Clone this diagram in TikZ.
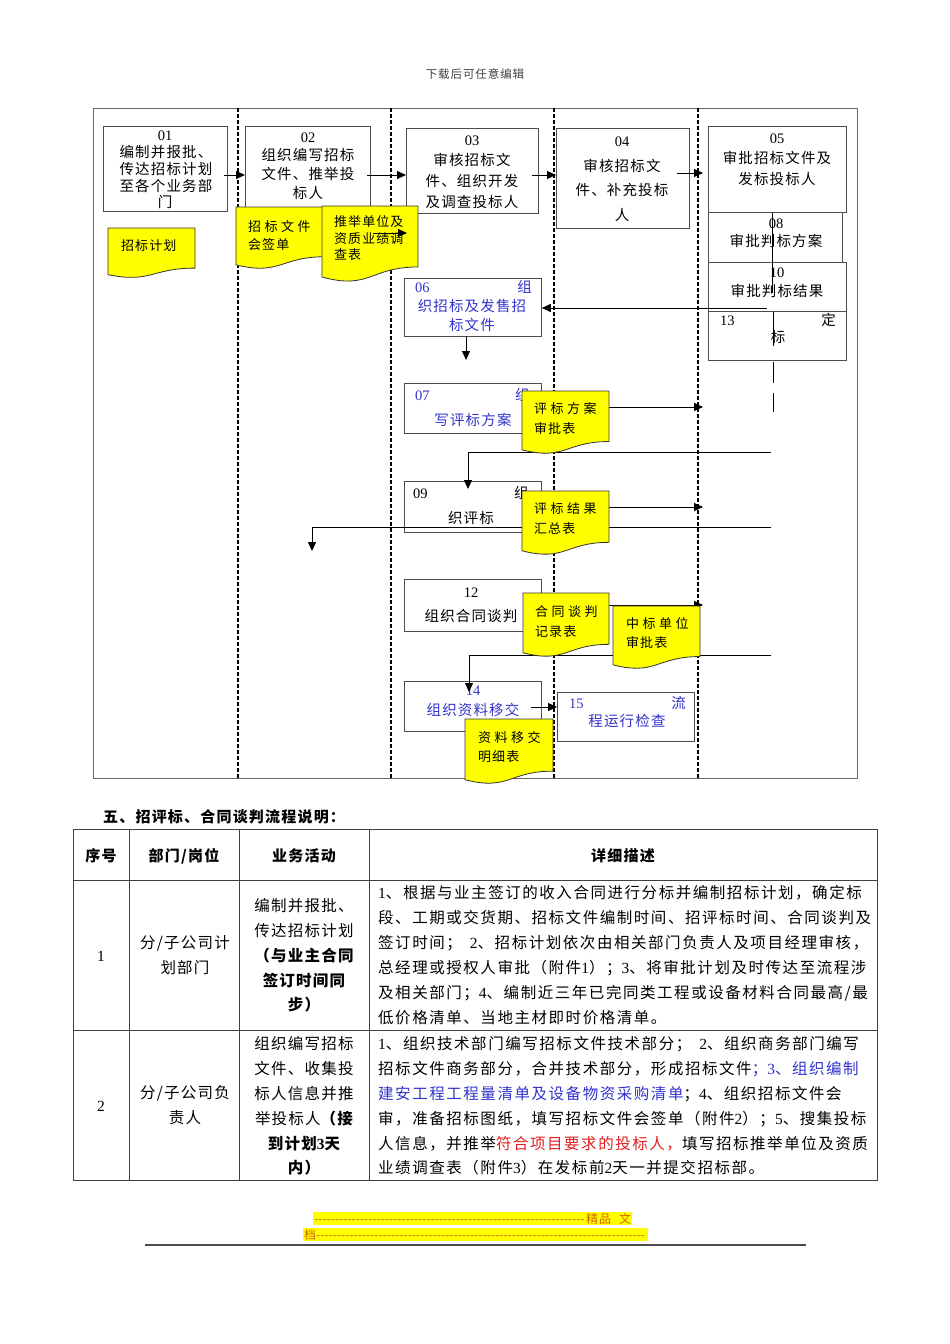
\documentclass[tikz,border=0pt]{standalone}
\usepackage{fontspec}
\setmainfont{Noto Sans CJK SC}
\newfontfamily\cjk[LetterSpace=8]{Noto Sans CJK SC}
\newfontfamily\cjkw[LetterSpace=10]{Noto Sans CJK SC}
\newfontfamily\lat{Liberation Serif}
\usetikzlibrary{arrows.meta}
\definecolor{bl}{RGB}{51,51,204}
\definecolor{rd}{RGB}{230,30,30}
\definecolor{org}{RGB}{210,100,0}
\definecolor{yl}{RGB}{255,255,0}
\newcommand\ydoc[4]{\filldraw[docs] (#1,#2) -- (#1+#3,#2) -- (#1+#3,#2+0.802*#4) .. controls (#1+0.5*#3,#2+0.802*#4) and (#1+0.5*#3,#2+1.1075*#4) .. (#1,#2+0.934*#4) -- cycle;}
\begin{document}
\begin{tikzpicture}[x=1pt,y=-1pt,
  box/.style={draw=black!70, line width=0.8pt, fill=white, inner sep=0pt, anchor=north west},
  dline/.style={dash pattern=on 4pt off 2pt, line width=1.1pt, black},
  conn/.style={line width=0.9pt},
  arr/.style={line width=0.9pt, -{Triangle[length=9pt,width=8pt]}},
  docs/.style={fill=yl, draw=black!80, line width=0.8pt},
  bt/.style={inner sep=0pt, anchor=base, font={\cjk\fontsize{14.5}{17}\selectfont}},
  btl/.style={bt, anchor=base west},
  btr/.style={bt, anchor=base east},
  dtx/.style={inner sep=0pt, anchor=base west, font={\cjk\fontsize{13}{16}\selectfont}},
  tl/.style={draw=black!75, line width=1pt},
  hd/.style={inner sep=0pt, anchor=base, font={\cjk\fontsize{15}{18}\selectfont\bfseries}},
  ct/.style={inner sep=0pt, anchor=base, font={\cjk\fontsize{15.5}{18}\selectfont}},
  ctb/.style={ct, font={\cjk\fontsize{15.5}{18}\selectfont\bfseries}},
  ds/.style={inner sep=0pt, anchor=base west, font={\cjkw\fontsize{15.5}{18}\selectfont}}
]
\useasboundingbox (0,0) rectangle (950,1344);
\fill[white] (0,0) rectangle (950,1344);

% header
\node[inner sep=0pt, anchor=base, text=black!75, font={\cjk\fontsize{11.5}{13}\selectfont}] (hdr) at (475,78) {下载后可任意编辑};

% frame and lanes
\draw[black!60, line width=1pt] (93,108) rectangle (857,778);
\foreach \xx in {238,391,554,698} \draw[dline] (\xx,108) -- (\xx,778);

% boxes
\node[box, minimum width=124pt, minimum height=85pt] (b01) at (103,126) {};
\node[box, minimum width=125pt, minimum height=86pt] (b02) at (245,126) {};
\node[box, minimum width=132pt, minimum height=85pt] (b03) at (406,128) {};
\node[box, minimum width=133pt, minimum height=100pt] (b04) at (556,128) {};
\node[box, minimum width=138pt, minimum height=86pt] (b05) at (708,126) {};
\node[box, minimum width=134pt, minimum height=50pt] (b08) at (708,212) {};
\node[box, minimum width=138pt, minimum height=49pt] (b10) at (708,262) {};
\node[box, minimum width=138pt, minimum height=49pt] (b13) at (708,311) {};
\node[box, minimum width=137pt, minimum height=58pt] (b06) at (404,278) {};
\node[box, minimum width=137pt, minimum height=50pt] (b07) at (404,383) {};
\node[box, minimum width=137pt, minimum height=51pt] (b09) at (404,481) {};
\node[box, minimum width=137pt, minimum height=52pt] (b12) at (404,579) {};
\node[box, minimum width=137pt, minimum height=50pt] (b14) at (404,681) {};
\node[box, minimum width=137pt, minimum height=49pt] (b15) at (557,692) {};

% box texts
\node[bt] (t01a) at (165,140) {\lat 01};
\node[bt] (t01b) at (166,157) {编制并报批、};
\node[bt] (t01c) at (166,174) {传达招标计划};
\node[bt] (t01d) at (166,191) {至各个业务部};
\node[bt] (t01e) at (165,207) {门};

\node[bt] (t02a) at (308,142) {\lat 02};
\node[bt] (t02b) at (308,160) {组织编写招标};
\node[bt] (t02c) at (308,179) {文件、推举投};
\node[bt] (t02d) at (308,198) {标人};

\node[bt] (t03a) at (472,145) {\lat 03};
\node[bt] (t03b) at (472,165) {审核招标文};
\node[bt] (t03c) at (472,186) {件、组织开发};
\node[bt] (t03d) at (472,207) {及调查投标人};

\node[bt] (t04a) at (622,146) {\lat 04};
\node[bt] (t04b) at (622,171) {审核招标文};
\node[bt] (t04c) at (622,195) {件、补充投标};
\node[bt] (t04d) at (622,220) {人};

\node[bt] (t05a) at (777,143) {\lat 05};
\node[bt] (t05b) at (777,163) {审批招标文件及};
\node[bt] (t05c) at (777,184) {发标投标人};

\node[bt] (t08a) at (776,228) {\lat 08};
\node[bt] (t08b) at (776,246) {审批判标方案};

\node[bt] (t10a) at (777,277) {\lat 10};
\node[bt] (t10b) at (777,296) {审批判标结果};

\node[btl] (t13a) at (720,325) {\lat 13};
\node[btr] (t13b) at (836,325) {定};
\node[bt] (t13c) at (778,342) {标};

\node[btl, text=bl] (t06a) at (415,292) {\lat 06};
\node[btr, text=bl] (t06b) at (532,292) {组};
\node[bt, text=bl] (t06c) at (472,311) {织招标及发售招};
\node[bt, text=bl] (t06d) at (472,330) {标文件};

\node[btl, text=bl] (t07a) at (415,400) {\lat 07};
\node[btl, text=bl] (t07b) at (515,400) {组};
\node[bt, text=bl] (t07c) at (473,425) {写评标方案};

\node[btl] (t09a) at (413,498) {\lat 09};
\node[btl] (t09b) at (514,498) {组};
\node[bt] (t09c) at (471,523) {织评标};

\node[bt] (t12a) at (471,597) {\lat 12};
\node[bt] (t12b) at (471,621) {组织合同谈判};

\node[bt, text=bl] (t14a) at (473,695) {\lat 14};
\node[bt, text=bl] (t14b) at (473,715) {组织资料移交};

\node[btl, text=bl] (t15a) at (569,708) {\lat 15};
\node[btr, text=bl] (t15b) at (686,708) {流};
\node[bt, text=bl] (t15c) at (627,726) {程运行检查};

% connectors
\coordinate (c1) at (224,175);
\draw[arr] (c1) -- (b02.west |- c1);
\coordinate (c2) at (367,175);
\draw[arr] (c2) -- (b03.west |- c2);
\coordinate (c3) at (532,175);
\draw[arr] (c3) -- (b04.west |- c3);
\coordinate (c4) at (677,173);
\coordinate (c4e) at (703,173);
\draw[arr] (c4) -- (c4e);
\coordinate (c6) at (466,336);
\coordinate (c6e) at (466,360);
\draw[arr] (c6) -- (c6e);
\coordinate (v1) at (772,213);
\coordinate (v1e) at (772,293);
\draw[conn] (v1) -- (v1e);
\coordinate (c10) at (767,308);
\draw[arr] (c10) -- (b06.east |- c10);
\coordinate (v2) at (773,312);
\coordinate (v2e) at (773,346);
\draw[conn] (v2) -- (v2e);
\coordinate (v3) at (773,362);
\coordinate (v3e) at (773,383);
\draw[conn] (v3) -- (v3e);
\coordinate (v4) at (773,393);
\coordinate (v4e) at (773,412);
\draw[conn] (v4) -- (v4e);
\coordinate (r1) at (609,407);
\coordinate (r1e) at (703,407);
\draw[arr] (r1) -- (r1e);
\coordinate (l1) at (771,452);
\coordinate (l1m) at (468,452);
\coordinate (l1e) at (468,489);
\draw[arr] (l1) -- (l1m) -- (l1e);
\coordinate (r2) at (609,507);
\coordinate (r2e) at (703,507);
\draw[arr] (r2) -- (r2e);
\coordinate (l2) at (771,527);
\coordinate (l2m) at (312,527);
\coordinate (l2e) at (312,551);
\draw[arr] (l2) -- (l2m) -- (l2e);
\coordinate (r3) at (609,605);
\coordinate (r3e) at (703,605);
\draw[arr] (r3) -- (r3e);
\coordinate (l3) at (771,655);
\coordinate (l3m) at (469,655);
\coordinate (l3e) at (469,692);
\draw[arr] (l3) -- (l3m) -- (l3e);
\coordinate (c14) at (531,707);
\draw[arr] (c14) -- (b15.west |- c14);

% documents
\ydoc{108}{228}{87}{50}
\node[dtx] (d1) at (121,250) {招标计划};
\ydoc{236}{207}{89}{62}
\node[dtx] (d2a) at (248,231) {招\hspace{3.5pt}标\hspace{3.5pt}文\hspace{3.5pt}件};
\node[dtx] (d2b) at (248,249) {会签单};
\ydoc{322}{206}{96}{76}
\node[dtx] (d3a) at (334,226) {推举单位及};
\node[dtx] (d3b) at (334,243) {资质业绩调};
\node[dtx] (d3c) at (334,259) {查表};
\ydoc{522}{391}{87}{63}
\node[dtx] (d4a) at (534,413) {评\hspace{3.5pt}标\hspace{3.5pt}方\hspace{3.5pt}案};
\node[dtx] (d4b) at (534,433) {审批表};
\ydoc{522}{491}{87}{64}
\node[dtx] (d5a) at (534,513) {评\hspace{3.5pt}标\hspace{3.5pt}结\hspace{3.5pt}果};
\node[dtx] (d5b) at (534,533) {汇总表};
\ydoc{523}{593}{86}{64}
\node[dtx] (d6a) at (535,616) {合\hspace{3.5pt}同\hspace{3.5pt}谈\hspace{3.5pt}判};
\node[dtx] (d6b) at (535,636) {记录表};
\ydoc{613}{606}{87}{63}
\node[dtx] (d7a) at (626,628) {中\hspace{3.5pt}标\hspace{3.5pt}单\hspace{3.5pt}位};
\node[dtx] (d7b) at (626,647) {审批表};
\ydoc{465}{719}{88}{65}
\node[dtx] (d8a) at (478,742) {资\hspace{3.5pt}料\hspace{3.5pt}移\hspace{3.5pt}交};
\node[dtx] (d8b) at (478,761) {明细表};

% arrow drawn over the document
\coordinate (c2b) at (373,233);
\coordinate (c2be) at (407,233);
\draw[arr] (c2b) -- (c2be);

% section title
\node[hd, anchor=base west] (title) at (103,822) {五、招评标、合同谈判流程说明：};

% table
\draw[tl] (73,829) rectangle (877,1180);
\draw[tl] (129,829) -- (129,1180);
\draw[tl] (239,829) -- (239,1180);
\draw[tl] (369,829) -- (369,1180);
\draw[tl] (73,880) -- (877,880);
\draw[tl] (73,1030) -- (877,1030);

\node[hd] (h1) at (101,861) {序号};
\node[hd] (h2) at (184,861) {部门/岗位};
\node[hd] (h3) at (304,861) {业务活动};
\node[hd] (h4) at (623,861) {详细描述};

% row 1
\node[ct] (n1) at (101,961) {\lat 1};
\node[ct] (p1a) at (185,948) {分/子公司计};
\node[ct] (p1b) at (185,973) {划部门};
\node[ct] (a1a) at (304,911) {编制并报批、};
\node[ct] (a1b) at (304,936) {传达招标计划};
\node[ctb] (a1c) at (304,961) {（与业主合同};
\node[ctb] (a1d) at (304,986) {签订时间同};
\node[ctb] (a1e) at (304,1010) {步）};
\node[ds] (e1a) at (378,898) {{\lat 1}、根据与业主签订的收入合同进行分标并编制招标计划，确定标};
\node[ds] (e1b) at (378,923) {段、工期或交货期、招标文件编制时间、招评标时间、合同谈判及};
\node[ds] (e1c) at (378,948) {签订时间；\hspace{8pt}{\lat 2}、招标计划依次由相关部门负责人及项目经理审核，};
\node[ds] (e1d) at (378,973) {总经理或授权人审批（附件{\lat 1}）；{\lat 3}、将审批计划及时传达至流程涉};
\node[ds] (e1e) at (378,998) {及相关部门；{\lat 4}、编制近三年已完同类工程或设备材料合同最高/最};
\node[ds] (e1f) at (378,1023) {低价格清单、当地主材即时价格清单。};

% row 2
\node[ct] (n2) at (101,1111) {\lat 2};
\node[ct] (p2a) at (185,1098) {分/子公司负};
\node[ct] (p2b) at (185,1123) {责人};
\node[ct] (a2a) at (304,1049) {组织编写招标};
\node[ct] (a2b) at (304,1074) {文件、收集投};
\node[ct] (a2c) at (304,1099) {标人信息并推};
\node[ct] (a2d) at (304,1124) {举投标人{\bfseries （接}};
\node[ctb] (a2e) at (304,1149) {到计划{\lat\bfseries 3}天};
\node[ctb] (a2f) at (304,1173) {内）};
\node[ds] (e2a) at (378,1049) {{\lat 1}、组织技术部门编写招标文件技术部分；\hspace{8pt}{\lat 2}、组织商务部门编写};
\node[ds] (e2b) at (378,1074) {招标文件商务部分，合并技术部分，形成招标文件\textcolor{bl}{；{\lat 3}、组织编制}};
\node[ds] (e2c) at (378,1099) {\textcolor{bl}{建安工程工程量清单及设备物资采购清单}；{\lat 4}、组织招标文件会};
\node[ds] (e2d) at (378,1124) {审，准备招标图纸，填写招标文件会签单（附件{\lat 2}）；{\lat 5}、搜集投标};
\node[ds] (e2e) at (378,1149) {人信息，并推举\textcolor{rd}{符合项目要求的投标人，}填写招标推举单位及资质};
\node[ds] (e2f) at (378,1173) {业绩调查表（附件{\lat 3}）在发标前{\lat 2}天一并提交招标部。};

% footer
\node[fill=yl, inner sep=1pt, anchor=base west, text=org, font={\cjk\fontsize{12}{14}\selectfont}] (f1) at (313,1223) {\makebox[272pt]{\leaders\hbox{-}\hfill}精品\hspace{8pt}文};
\node[fill=yl, inner sep=1pt, anchor=base west, text=org, font={\cjk\fontsize{12}{14}\selectfont}] (f2) at (303,1239) {档\makebox[331pt]{\leaders\hbox{-}\hfill}};
\coordinate (fl1) at (145,1245);
\coordinate (fl2) at (806,1245);
\draw[black!70, line width=1.5pt] (fl1) -- (fl2);
\end{tikzpicture}
\end{document}
